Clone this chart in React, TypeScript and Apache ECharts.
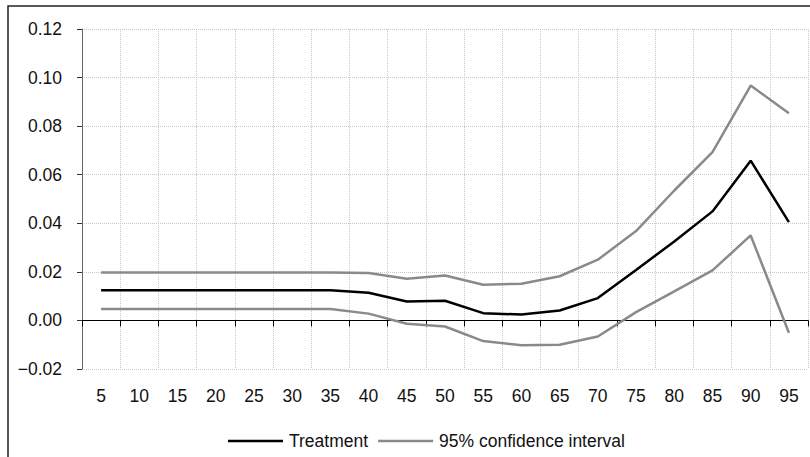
import React, { useEffect, useRef } from "react";
import * as echarts from "echarts";

const categories = ["5", "10", "15", "20", "25", "30", "35", "40", "45", "50", "55", "60", "65", "70", "75", "80", "85", "90", "95"];
const treatment = [0.0124, 0.0124, 0.0124, 0.0124, 0.0124, 0.0124, 0.0124, 0.0114, 0.0078, 0.0081, 0.003, 0.0024, 0.0041, 0.0092, 0.0208, 0.0325, 0.0449, 0.0658, 0.0405];
const ciUpper = [0.0197, 0.0197, 0.0197, 0.0197, 0.0197, 0.0197, 0.0197, 0.0195, 0.0172, 0.0185, 0.0147, 0.0151, 0.0182, 0.025, 0.0368, 0.0535, 0.0693, 0.0967, 0.0853];
const ciLower = [0.0047, 0.0047, 0.0047, 0.0047, 0.0047, 0.0047, 0.0047, 0.0028, -0.0014, -0.0025, -0.0085, -0.0102, -0.01, -0.0066, 0.0034, 0.012, 0.0206, 0.035, -0.0051];
const seriesNames = ["Treatment", "95% confidence interval"];

const FONT = "'Liberation Sans', Arial, sans-serif";
const FS = 17.5;

export default function App() {
  const ref = useRef<HTMLDivElement>(null);
  useEffect(() => {
    if (!ref.current) return;
    const chart = echarts.init(ref.current, undefined, { renderer: "svg" });
    chart.setOption({
      animation: false,
      textStyle: { fontFamily: FONT },
      grid: { left: 82, right: 2, top: 29, bottom: 88 },
      graphic: [
        {
          type: "rect",
          shape: { x: 8, y: 6, width: 830, height: 480 },
          style: { fill: "none", stroke: "#222", lineWidth: 1.5 },
          silent: true,
        },
      ],
      legend: {
        left: 223,
        top: 427,
        data: seriesNames.map((n) => ({ name: n, icon: "rect" })),
        itemWidth: 55,
        itemHeight: 2.5,
        itemGap: 10,
        textStyle: { fontFamily: FONT, fontSize: FS, color: "#111", padding: [0, 0, 0, 1] },
      },
      xAxis: {
        type: "category",
        data: categories,
        boundaryGap: true,
        axisLine: { onZero: true, lineStyle: { color: "#000", width: 1 } },
        axisTick: { show: true, length: 6, lineStyle: { color: "#000" } },
        axisLabel: { margin: 18, fontFamily: FONT, fontSize: FS, color: "#111" },
        splitLine: { show: true, lineStyle: { type: "dotted", color: "#c8c8c8", width: 1 } },
      },
      yAxis: {
        type: "value",
        min: -0.02,
        max: 0.12,
        interval: 0.02,
        axisLine: { show: true, lineStyle: { color: "#666", width: 1 } },
        axisTick: { show: true, length: 5, lineStyle: { color: "#333" } },
        axisLabel: {
          margin: 20,
          fontFamily: FONT,
          fontSize: FS,
          color: "#111",
          formatter: (v: number) => (v < 0 ? "\u2212" + Math.abs(v).toFixed(2) : v.toFixed(2)),
        },
        splitLine: { show: true, lineStyle: { type: "dotted", color: "#c8c8c8", width: 1 } },
      },
      series: [
        {
          name: seriesNames[0],
          type: "line",
          data: treatment,
          symbol: "none",
          lineStyle: { color: "#000", width: 2.5 },
          itemStyle: { color: "#000" },
          z: 3,
        },
        {
          name: seriesNames[1],
          type: "line",
          data: ciUpper,
          symbol: "none",
          lineStyle: { color: "#8a8a8a", width: 2.5 },
          itemStyle: { color: "#8a8a8a" },
          z: 2,
        },
        {
          name: seriesNames[1],
          type: "line",
          data: ciLower,
          symbol: "none",
          lineStyle: { color: "#8a8a8a", width: 2.5 },
          itemStyle: { color: "#8a8a8a" },
          z: 2,
        },
      ],
    });
    return () => chart.dispose();
  }, []);
  return <div ref={ref} style={{ position: "absolute", left: 0, top: 0, width: 810, height: 457 }} />;
}
